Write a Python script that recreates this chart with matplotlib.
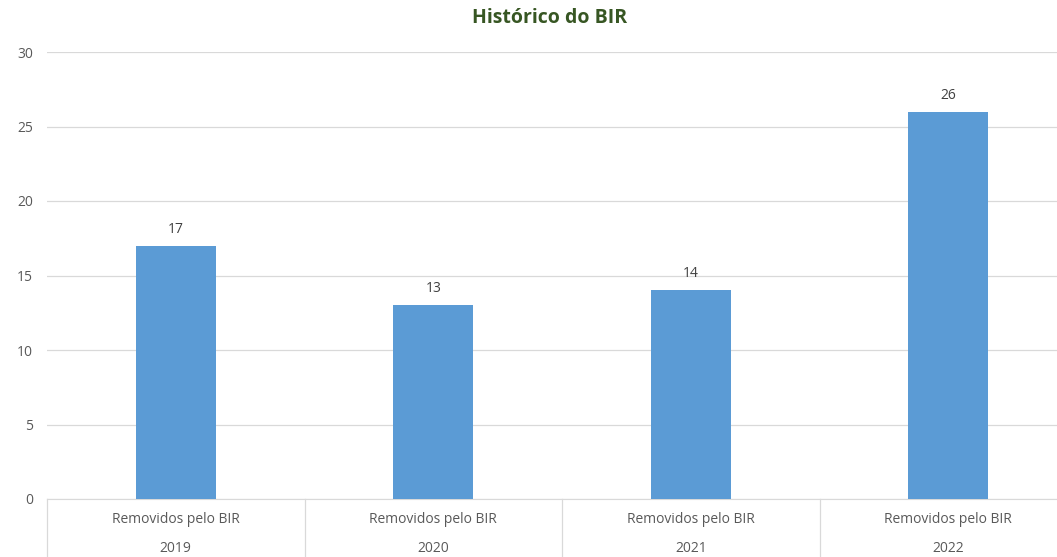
import matplotlib.pyplot as plt

# dados
anos = ['2019', '2020', '2021', '2022']
rotulo = 'Removidos pelo BIR'
removidos = [17, 13, 14, 26]

plt.rcParams['font.family'] = ['Open Sans', 'DejaVu Sans']

fig = plt.figure(figsize=(10.57, 5.57), dpi=100)
# a área do gráfico passa um pouco da borda direita, como no original
ax = fig.add_axes([47 / 1057, 1 - 499 / 557, 1030 / 1057, 447 / 557])

x = range(len(anos))
barras = ax.bar(x, removidos, width=0.31, color='#5B9BD5', zorder=3)
for b, v in zip(barras, removidos):
    ax.text(b.get_x() + b.get_width() / 2, v + 0.6, str(v), ha='center', va='bottom',
            fontsize=10, color='#404040')

ax.set_xlim(-0.5, len(anos) - 0.5)
ax.set_ylim(0, 30)
ax.set_yticks(range(0, 31, 5))
ax.tick_params(axis='y', length=0, labelsize=10, labelcolor='#595959', pad=10)
ax.set_xticks([])
ax.grid(axis='y', color='#D9D9D9', linewidth=0.9, zorder=0)
for s in ['top', 'right', 'left']:
    ax.spines[s].set_visible(False)
ax.spines['bottom'].set_color('#D9D9D9')

# eixo de categorias em dois níveis
for i, ano in enumerate(anos):
    ax.text(i, -1.35, rotulo, ha='center', va='center', fontsize=10, color='#595959')
    ax.text(i, -3.3, ano, ha='center', va='center', fontsize=10, color='#595959')
for i in range(len(anos) + 1):
    ax.plot([i - 0.5, i - 0.5], [0, -4.5], color='#D9D9D9', linewidth=0.9, clip_on=False)

fig.text(550 / 1057, 1 - 18 / 557, 'Histórico do BIR', ha='center', va='center',
         fontsize=14, fontweight='bold', color='#375623')

fig.savefig('out.png', dpi=100)
